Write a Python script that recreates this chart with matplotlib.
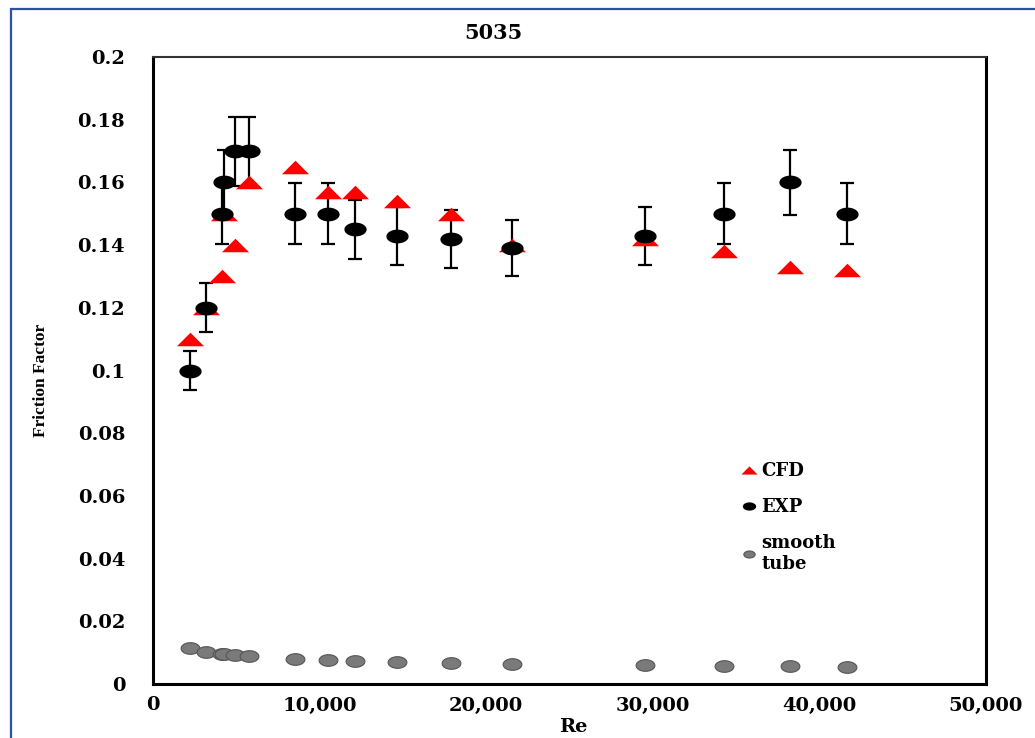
import matplotlib
matplotlib.use('Agg')
import matplotlib.pyplot as plt
import numpy as np
from matplotlib.path import Path
from matplotlib.patches import Rectangle

# valores
re_vals = [2200, 3200, 4150, 4250, 4900, 5750, 8550, 10500, 12100, 14650,
           17900, 21550, 29550, 34250, 38250, 41650]
cfd = [0.110, 0.120, 0.130, 0.150, 0.140, 0.160, 0.165, 0.157, 0.157, 0.154,
       0.150, 0.140, 0.142, 0.138, 0.133, 0.132]
exp = [0.100, 0.120, 0.150, 0.160, 0.170, 0.170, 0.150, 0.150, 0.145, 0.143,
       0.142, 0.139, 0.143, 0.150, 0.160, 0.150]
exp_err = [0.0062, 0.0078, 0.0098, 0.0104, 0.0110, 0.0110, 0.0098, 0.0098, 0.0094, 0.0093,
           0.0092, 0.0090, 0.0093, 0.0098, 0.0104, 0.0098]
smooth = [0.0115, 0.0102, 0.0097, 0.0095, 0.0093, 0.0089, 0.0080, 0.0077, 0.0073, 0.0070,
          0.0067, 0.0064, 0.0061, 0.0057, 0.0057, 0.0054]

x_ticks = [0, 10000, 20000, 30000, 40000, 50000]
x_labels = ['0', '10,000', '20,000', '30,000', '40,000', '50,000']
y_ticks = [0, 0.02, 0.04, 0.06, 0.08, 0.1, 0.12, 0.14, 0.16, 0.18, 0.2]
y_labels = ['0', '0.02', '0.04', '0.06', '0.08', '0.1', '0.12', '0.14', '0.16', '0.18', '0.2']

plt.rcParams['font.family'] = ['DejaVu Serif']
plt.rcParams['font.weight'] = 'bold'

# marcadores achatados (estilo Excel)
t = np.linspace(0, 2 * np.pi, 60)
ellipse = Path(np.column_stack([np.cos(t), 0.62 * np.sin(t)]), closed=True)
tri = Path([(-1, -0.5), (1, -0.5), (0, 0.5), (-1, -0.5)], closed=True)

fig = plt.figure(figsize=(10.35, 7.38), dpi=100)
ax = fig.add_axes([153 / 1035, 1 - 684 / 738, (986 - 153) / 1035, (684 - 57) / 738])

ax.errorbar(re_vals, exp, yerr=exp_err, fmt='none', ecolor='black',
            elinewidth=1.6, capsize=5, capthick=1.6, zorder=2)
ax.plot(re_vals, cfd, linestyle='none', marker=tri, markersize=19.5,
        color='#ff0000', markeredgewidth=0, label='CFD', zorder=3)
ax.plot(re_vals, exp, linestyle='none', marker=ellipse, markersize=16,
        color='black', markeredgewidth=0, label='EXP', zorder=4)
ax.plot(re_vals, smooth, linestyle='none', marker=ellipse, markersize=13.5,
        markerfacecolor='#7a7a7a', markeredgecolor='#555555', markeredgewidth=0.8,
        label='smooth\ntube', zorder=3)

ax.set_xlim(0, 50000)
ax.set_ylim(0, 0.2)
ax.set_xticks(x_ticks)
ax.set_xticklabels(x_labels)
ax.set_yticks(y_ticks)
ax.set_yticklabels(y_labels)
ax.tick_params(length=0, labelsize=14)
ax.tick_params(axis='y', pad=20)
ax.tick_params(axis='x', pad=9)
for lab in ax.get_xticklabels() + ax.get_yticklabels():
    lab.set_fontweight('bold')

for side in ['left', 'right', 'bottom']:
    ax.spines[side].set_linewidth(2.2)
    ax.spines[side].set_color('black')
ax.spines['top'].set_linewidth(1.5)
ax.spines['top'].set_color('#333333')

fig.text(493 / 1035, 1 - 33 / 738, '5035', fontsize=15, fontweight='bold',
         ha='center', va='center')
fig.text(573 / 1035, 1 - 727 / 738, 'Re', fontsize=14, fontweight='bold',
         ha='center', va='center')
fig.text(41 / 1035, 1 - 380 / 738, 'Friction Factor', fontsize=12.5, fontweight='bold',
         family='Liberation Serif', rotation=90, ha='center', va='center')

leg = ax.legend(loc='upper left', bbox_to_anchor=(0.685, 0.38), frameon=False,
                prop={'size': 13, 'weight': 'bold'}, handletextpad=0.2,
                labelspacing=1.0, markerscale=0.6, handlelength=1.0)

# moldura azul em volta da figura
fig.patches.append(Rectangle((11 / 1035, -0.1), 1.2, 1 - 9 / 738 + 0.1,
                             transform=fig.transFigure, fill=False,
                             edgecolor='#2f4fa8', linewidth=1.6, clip_on=False))

fig.savefig('out.png', dpi=100)
